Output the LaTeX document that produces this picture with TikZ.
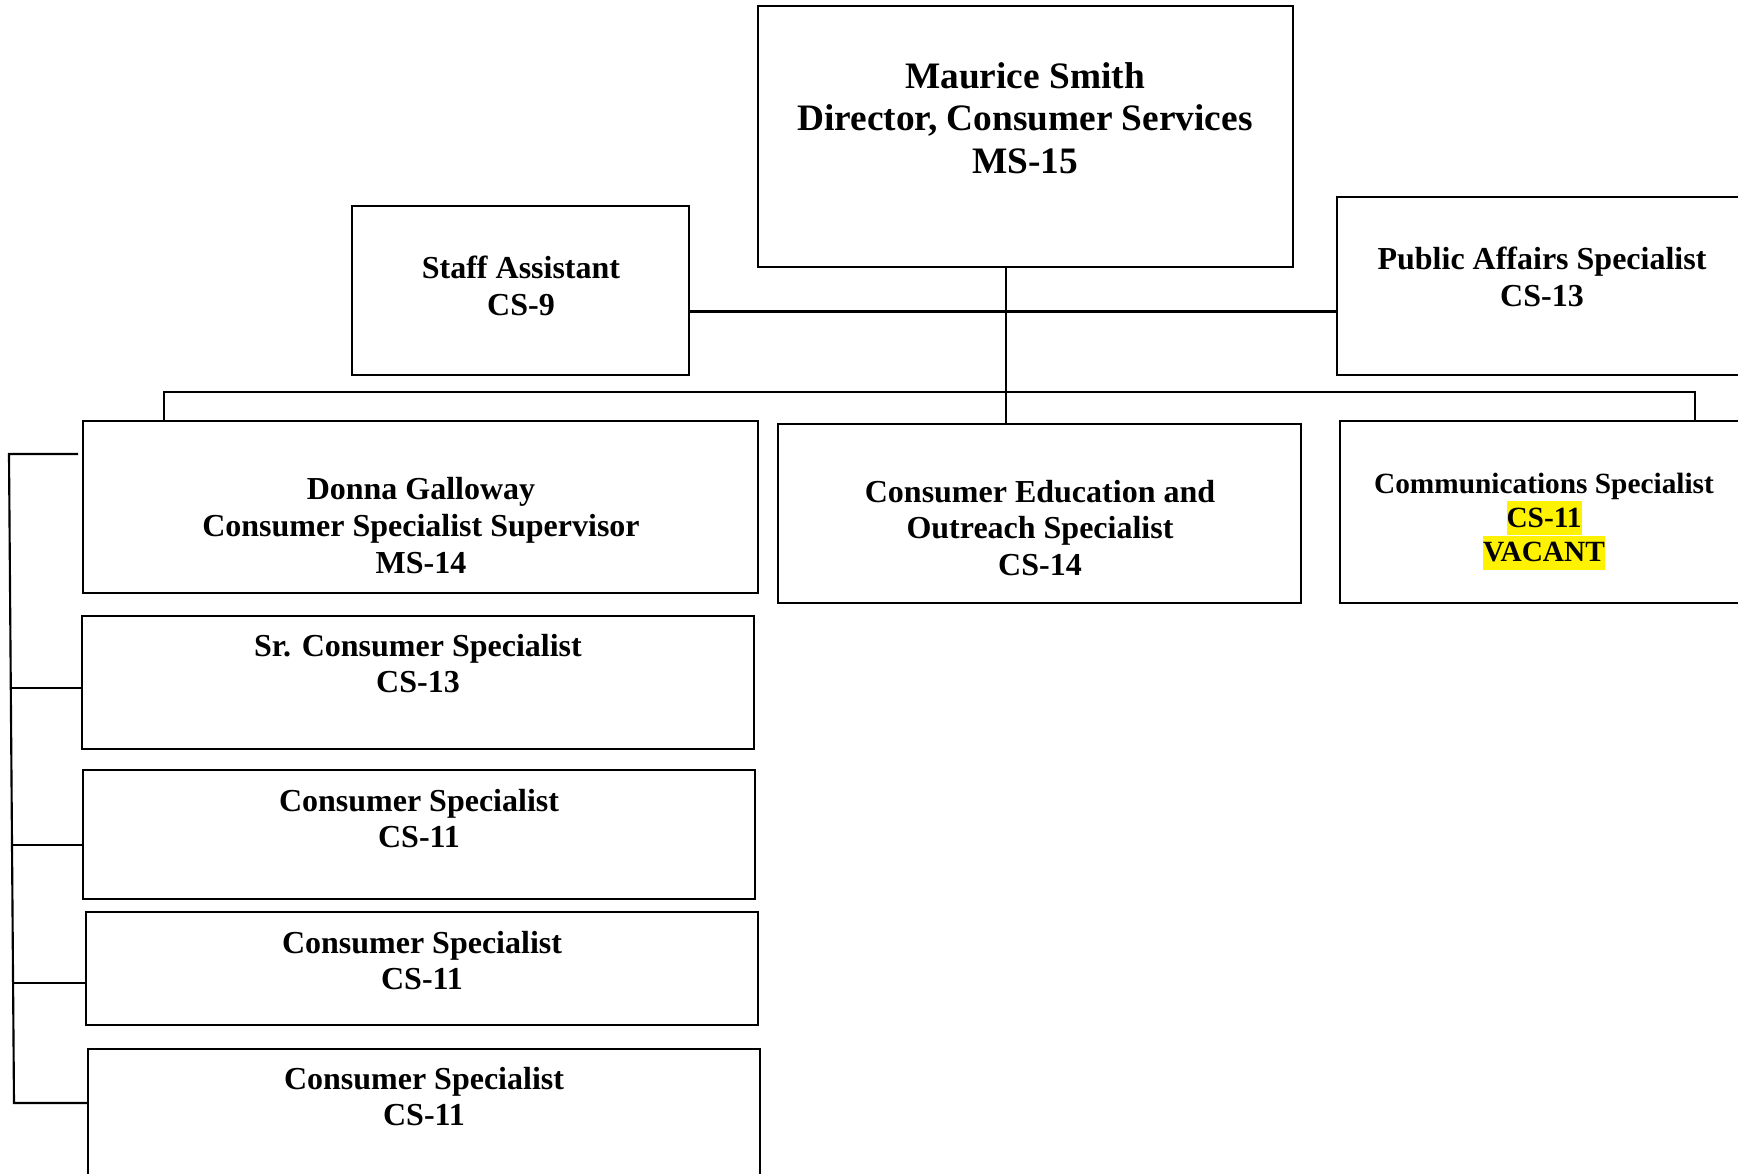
\documentclass[tikz,border=0pt]{standalone}
\usepackage{fontspec}
\setmainfont{Liberation Serif}
\usepackage{xcolor}
\newcommand\hlite[1]{{\setlength{\fboxsep}{0pt}\colorbox{yellow}{\rule[-0.27em]{0pt}{1.14em}#1}}}
\begin{document}
\begin{tikzpicture}[x=0.75pt, y=-0.75pt,
  box/.style={draw, line width=1.6pt, rectangle, inner sep=0pt},
  link/.style={line width=1.6pt},
  lbl/.style={align=center, inner sep=0pt, font=\fontsize{24}{27.6}\selectfont\bfseries},
  lblbig/.style={lbl, font=\fontsize{28}{32}\selectfont\bfseries},
  lblsmall/.style={lbl, font=\fontsize{22}{25}\selectfont\bfseries}]
\useasboundingbox (0,0) rectangle (1738,1174);
\clip (0,0) rectangle (1738,1174);

% position boxes
\node[box, minimum width=401.25pt, minimum height=195.75pt] (dir) at (1025.5,136.5) {};
\node[box, minimum width=252.75pt, minimum height=126.75pt] (staff) at (520.5,290.5) {};
\node[box, minimum width=317.25pt, minimum height=133.5pt] (pub) at (1548.5,286) {};
\node[box, minimum width=506.25pt, minimum height=129pt] (donna) at (420.5,507) {};
\node[box, minimum width=392.25pt, minimum height=134.25pt] (ctr) at (1039.5,513.5) {};
\node[box, minimum width=315pt, minimum height=136.5pt] (comm) at (1550,512) {};
\node[box, minimum width=504pt, minimum height=99.75pt] (sr) at (418,682.5) {};
\node[box, minimum width=504pt, minimum height=96.75pt] (cs1) at (419,834.5) {};
\node[box, minimum width=504pt, minimum height=84.75pt] (cs2) at (422,968.5) {};
\node[box, minimum width=504pt, minimum height=113.25pt] (cs3) at (424,1124.5) {};

% titles
\node[lblbig] (tdir) at (1025,118) {Maurice Smith\\Director, Consumer Services\\MS-15};
\node[lbl] (tstaff) at (521,285.5) {Staff Assistant\\CS-9};
\node[lbl] (tpub) at (1542,276.5) {Public Affairs Specialist\\CS-13};
\node[lbl] (tdonna) at (421,525.5) {Donna Galloway\\Consumer Specialist Supervisor\\MS-14};
\node[lbl] (tctr) at (1040,528) {Consumer Education and\\Outreach Specialist\\CS-14};
\node[lblsmall] (tcomm) at (1544,521.5) {Communications Specialist\\\hlite{CS-11}\\\hlite{VACANT}};
\node[lbl] (tsr) at (418,663.5) {Sr. Consumer Specialist\\CS-13};
\node[lbl] (tcs1) at (419,818.5) {Consumer Specialist\\CS-11};
\node[lbl] (tcs2) at (422,960.5) {Consumer Specialist\\CS-11};
\node[lbl] (tcs3) at (424,1096.5) {Consumer Specialist\\CS-11};

% reporting lines
\coordinate (vx) at (1006,0);
\coordinate (aux) at (1006,311.5);
\coordinate (busL) at (164,392);
\coordinate (busR) at (1695,392);
\draw[link] (dir.south -| vx) -- (ctr.north -| vx);
\draw[link] (staff.east |- aux) -- (pub.west |- aux);
\draw[link] (donna.north -| busL) -- (busL) -- (busR) -- (comm.north -| busR);

% supervisor's staff spine
\coordinate (spT) at (9,454);
\coordinate (stubT) at (78,454);
\coordinate (s1) at (10.8,688);
\coordinate (s2) at (12,845);
\coordinate (s3) at (13.1,983);
\coordinate (spB) at (14,1103);
\draw[link] (stubT) -- (spT) -- (spB) -- (cs3.west |- spB);
\draw[link] (s1) -- (sr.west |- s1);
\draw[link] (s2) -- (cs1.west |- s2);
\draw[link] (s3) -- (cs2.west |- s3);
\end{tikzpicture}
\end{document}
